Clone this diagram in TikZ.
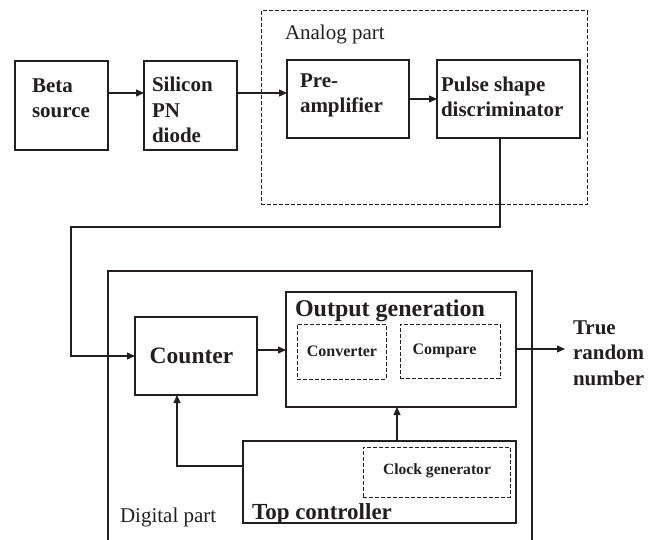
\documentclass[tikz,border=0pt]{standalone}
\usepackage{fontspec}
\setmainfont{Liberation Serif}
\usetikzlibrary{arrows.meta}
\definecolor{ink}{HTML}{231F20}
\begin{document}
\begin{tikzpicture}[x=1bp,y=-1bp,
  blk/.style={draw=ink, line width=1.3bp, inner sep=0, outer sep=0},
  dblk/.style={draw=ink, line width=1bp, dash pattern=on 4bp off 2bp, inner sep=0, outer sep=0},
  txt/.style={inner sep=0, outer sep=0, text=ink, align=left, font=\fontsize{21bp}{25.5bp}\selectfont\bfseries},
  plain/.style={txt, font=\fontsize{21bp}{25.5bp}\selectfont},
  conn/.style={draw=ink, line width=1.1bp},
  arr/.style={conn, -{Triangle[length=8bp,width=7bp]}}]
\useasboundingbox (0,0) rectangle (658,540);

% box from its two corners: style, name, x1, y1, x2, y2
\def\blkat#1#2#3#4#5#6{%
  \node[#1, minimum width={(#5-#3)*1bp}, minimum height={(#6-#4)*1bp}]
    (#2) at ({(#3+#5)/2},{(#4+#6)/2}) {};}

% analog front end
\blkat{dblk}{analog}{261}{11}{587}{205}
\blkat{blk}{beta}{15}{61}{108}{150}
\blkat{blk}{diode}{144}{61}{237}{150}
\blkat{blk}{preamp}{287}{60}{409}{138}
\blkat{blk}{psd}{437}{60}{580}{138}

% multi-line labels are placed by the baseline of their last line
\node[plain, anchor=base west] (analogtxt) at (285,40) {Analog part};
\node[txt, anchor=base west] (betatxt) at (32,118) {Beta\\source};
\node[txt, anchor=base west] (diodetxt) at (152,143) {Silicon\\PN\\diode};
\node[txt, anchor=base west] (preamptxt) at (300,113) {Pre-\\amplifier};
\node[txt, anchor=base west] (psdtxt) at (441,117) {Pulse shape\\discriminator};

% digital back end (frame runs off the bottom)
\draw[blk] (108,545) -- (108,271) -- (532,271) -- (532,545);
\blkat{blk}{counter}{135}{317}{257}{395}
\blkat{blk}{outgen}{286}{292}{516}{407}
\blkat{dblk}{conv}{297}{324}{386}{379}
\blkat{dblk}{cmp}{400}{324}{500}{378}
\blkat{blk}{topctrl}{243}{441}{516}{523}
\blkat{dblk}{clk}{363}{447}{510}{497}

\node[txt, anchor=base, font=\fontsize{23.5bp}{28bp}\selectfont\bfseries] (countertxt) at (191.5,363) {Counter};
\node[txt, anchor=base west, font=\fontsize{24bp}{28bp}\selectfont\bfseries] (outgentxt) at (295,316) {Output generation};
\node[txt, anchor=base, font=\fontsize{16bp}{19bp}\selectfont\bfseries] (convtxt) at (342,356) {Converter};
\node[txt, anchor=base, font=\fontsize{16bp}{19bp}\selectfont\bfseries] (cmptxt) at (444.5,354) {Compare};
\node[txt, anchor=base, font=\fontsize{15.6bp}{19bp}\selectfont\bfseries] (clktxt) at (437,474) {Clock generator};
\node[txt, anchor=base west, font=\fontsize{23bp}{28bp}\selectfont\bfseries] (topctrltxt) at (252,519) {Top controller};
\node[plain, anchor=base west] (digitaltxt) at (120,522) {Digital part};
\node[txt, anchor=base west] (trn) at (573,385) {True\\random\\number};

% signal path
\draw[arr] (beta.east |- 0,93) -- (diode.west |- 0,93);
\draw[arr] (diode.east |- 0,93) -- (preamp.west |- 0,93);
\draw[arr] (preamp.east |- 0,99) -- (psd.west |- 0,99);
\coordinate (bendA) at (500,227);
\coordinate (bendB) at (71,227);
\draw[arr] (psd.south -| bendA) -- (bendA) -- (bendB) |- (counter.west);
\draw[arr] (counter.east |- 0,350) -- (outgen.west |- 0,350);
\coordinate (outend) at (565,349);
\draw[arr] (outgen.east |- outend) -- (outend);
\draw[arr] (topctrl.north -| 397,0) -- (outgen.south -| 397,0);
\draw[arr] (topctrl.west |- 0,466) -| (counter.south -| 177,0);
\end{tikzpicture}
\end{document}
